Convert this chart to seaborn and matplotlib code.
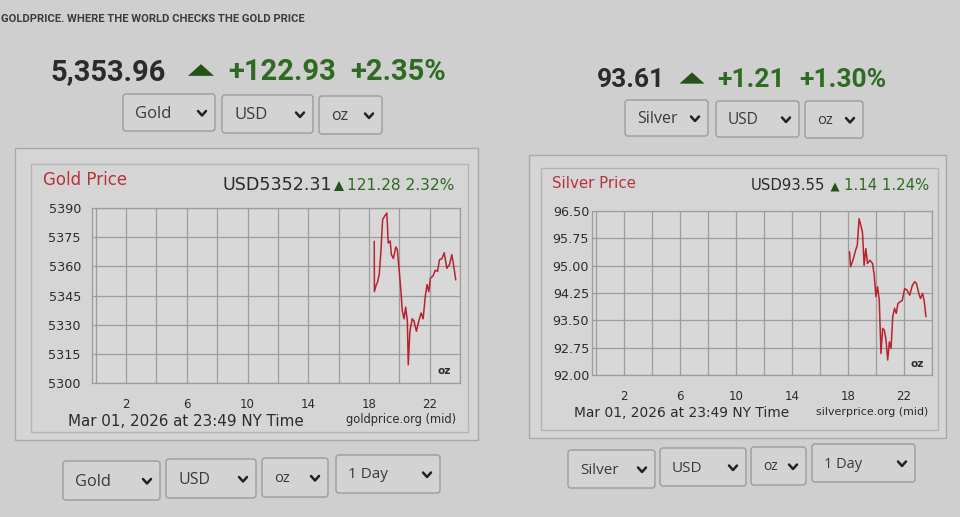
import matplotlib

matplotlib.use("Agg")
import matplotlib.pyplot as plt
import pandas as pd
import seaborn as sns
from matplotlib.lines import Line2D
from matplotlib.patches import FancyBboxPatch, Polygon, Rectangle

# ---- data -------------------------------------------------------------------
gold_hours = [18.35, 18.36, 18.46, 18.57, 18.68, 18.79, 18.90, 19.05, 19.18, 19.27, 19.40,
              19.48, 19.61, 19.77, 19.87, 19.98, 20.09, 20.20, 20.31, 20.42, 20.53, 20.59,
              20.70, 20.85, 20.96, 21.13, 21.29, 21.44, 21.57, 21.72, 21.83, 21.94, 22.05,
              22.22, 22.37, 22.52, 22.65, 22.81, 22.96, 23.13, 23.31, 23.46, 23.57, 23.72]
gold_prices = [5372.9, 5347.0, 5350.0, 5352.0, 5356.0, 5368.0, 5384.0, 5386.0, 5387.4, 5372.0,
               5373.0, 5366.0, 5364.0, 5370.0, 5368.6, 5359.0, 5349.0, 5337.0, 5333.0, 5339.0,
               5332.0, 5309.4, 5326.6, 5333.0, 5332.0, 5326.6, 5332.0, 5336.0, 5333.0, 5345.0,
               5350.6, 5347.0, 5354.0, 5355.0, 5358.0, 5357.4, 5363.4, 5364.0, 5367.0, 5359.0,
               5361.0, 5366.0, 5361.0, 5353.0]

silver_hours = [18.12, 18.19, 18.36, 18.55, 18.67, 18.80, 18.92, 19.04, 19.16, 19.28, 19.40,
                19.57, 19.76, 19.88, 20.00, 20.12, 20.24, 20.36, 20.48, 20.60, 20.72, 20.84,
                20.96, 21.08, 21.20, 21.33, 21.45, 21.57, 21.73, 21.88, 22.05, 22.22, 22.41,
                22.60, 22.77, 22.89, 23.06, 23.18, 23.33, 23.45, 23.57]
silver_prices = [95.38, 94.97, 95.15, 95.42, 95.56, 96.29, 96.11, 95.92, 95.01, 95.47, 95.06,
                 95.15, 95.06, 94.74, 94.15, 94.42, 94.05, 92.59, 93.28, 93.23, 92.96, 92.41,
                 92.91, 92.73, 93.60, 93.83, 93.69, 93.96, 94.01, 94.05, 94.37, 94.33, 94.19,
                 94.46, 94.56, 94.51, 94.24, 94.10, 94.24, 94.01, 93.60]

hour_labels = [2, 6, 10, 14, 18, 22]
gold_yticks = [5300, 5315, 5330, 5345, 5360, 5375, 5390]
silver_yticks = [92.00, 92.75, 93.50, 94.25, 95.00, 95.75, 96.50]

W, H = 960, 517
BG = "#cfcfcf"
PANEL = "#d5d5d5"
EDGE = "#a9a9a9"
DARK = "#2b2b2b"
GREEN = "#2f6a22"
TRI = "#24531a"
RED = "#b8323a"
LINE = "#b8232f"
HEAD_FONT = "Roboto"

sns.set_theme(style="whitegrid")
plt.rcParams["font.family"] = ["DejaVu Sans"]

fig = plt.figure(figsize=(W / 100, H / 100), dpi=100, facecolor=BG)
bg = fig.add_axes([0, 0, 1, 1], zorder=0)
bg.set_xlim(0, W)
bg.set_ylim(H, 0)
bg.axis("off")


def dropdown(x0, y0, x1, y1, label, size=11):
    bg.add_patch(FancyBboxPatch((x0, y0), x1 - x0, y1 - y0, boxstyle="round,pad=0,rounding_size=3",
                                facecolor="#d3d3d3", edgecolor="#9c9c9c", linewidth=1.0))
    bg.text(x0 + 12, (y0 + y1) / 2 + 1, label, fontsize=size, color="#3a3a3a",
            family="Open Sans", va="center", ha="left")
    cx, cy = x1 - 13, (y0 + y1) / 2 + 1
    bg.add_line(Line2D([cx - 4, cx, cx + 4], [cy - 2.5, cy + 2, cy - 2.5], color="#222222", linewidth=1.8))


def panel(x0, y0, x1, y1, ix0, iy0, ix1, iy1):
    bg.add_patch(Rectangle((x0, y0), x1 - x0, y1 - y0, facecolor=PANEL, edgecolor=EDGE, linewidth=1.0))
    bg.add_patch(Rectangle((ix0, iy0), ix1 - ix0, iy1 - iy0, facecolor="none", edgecolor="#b4b4b4",
                           linewidth=1.0))


def triangle(cx, cy, w, h):
    bg.add_patch(Polygon([(cx - w / 2, cy + h / 2), (cx + w / 2, cy + h / 2), (cx, cy - h / 2)],
                         closed=True, facecolor=TRI, edgecolor="none"))


# header
bg.text(1, 19, "GOLDPRICE. WHERE THE WORLD CHECKS THE GOLD PRICE", fontsize=8.1, fontweight="bold",
        family=HEAD_FONT, color="#3c3c3c", va="center", ha="left")


def headline(x, y, price, change, pct, tri_x, chg_x, pct_x, size, tri_w):
    bg.text(x, y, price, fontsize=size, fontweight="bold", family=HEAD_FONT, color=DARK, va="center")
    triangle(tri_x, y - 2, tri_w, tri_w * 0.45)
    bg.text(chg_x, y, change, fontsize=size, fontweight="bold", family=HEAD_FONT, color=GREEN, va="center")
    bg.text(pct_x, y, pct, fontsize=size, fontweight="bold", family=HEAD_FONT, color=GREEN, va="center")


headline(51, 72, "5,353.96", "+122.93", "+2.35%", 201, 228, 350, 21, 26)
headline(597, 80, "93.61", "+1.21", "+1.30%", 692, 717, 799, 19, 25)

dropdown(123, 94, 215, 131, "Gold", 12)
dropdown(222, 95, 313, 133, "USD", 12)
dropdown(319, 96, 382, 134, "oz", 11.5)
dropdown(625, 100, 708, 136, "Silver", 11.5)
dropdown(716, 101, 799, 137, "USD", 11.2)
dropdown(805, 101, 863, 138, "oz", 10.5)

panel(15, 148, 478, 440, 31, 164, 468, 432)
panel(529, 155, 946, 438, 541, 168, 938, 430)

dropdown(63, 461, 160, 500, "Gold", 11.8)
dropdown(166, 459, 256, 498, "USD", 11.5)
dropdown(262, 458, 328, 497, "oz", 10.5)
dropdown(336, 455, 440, 493, "1 Day", 11)
dropdown(568, 450, 655, 488, "Silver", 11)
dropdown(660, 448, 746, 486, "USD", 11)
dropdown(751, 447, 806, 485, "oz", 10)
dropdown(812, 444, 915, 482, "1 Day", 10.5)


def price_chart(rect_px, hours, prices, yticks, yfmt, ylabel_pad, xlabel_pad):
    left, top, right, bottom = rect_px
    ax = fig.add_axes([left / W, 1 - bottom / H, (right - left) / W, (bottom - top) / H], zorder=2)
    frame = pd.DataFrame({"hour": hours, "price": prices})
    sns.lineplot(data=frame, x="hour", y="price", ax=ax, color=LINE, linewidth=1.1)
    ax.set_facecolor("#d8d8d8")
    ax.set_xlim(-0.25, 24)
    ax.set_ylim(yticks[0], yticks[-1])
    ax.set_xticks(range(0, 25, 2))
    ax.set_xticklabels([str(h) if h in hour_labels else "" for h in range(0, 25, 2)])
    ax.set_yticks(yticks)
    ax.set_yticklabels([yfmt.format(v) for v in yticks])
    ax.grid(True, color="#9d9d9d", linewidth=0.9)
    ax.tick_params(axis="x", length=0, pad=xlabel_pad, labelsize=8.5, labelcolor=DARK)
    ax.tick_params(axis="y", length=0, pad=ylabel_pad, labelsize=9.2, labelcolor=DARK)
    ax.set_xlabel("")
    ax.set_ylabel("")
    for spine in ax.spines.values():
        spine.set_color("#9d9d9d")
        spine.set_linewidth(0.9)
    ax.text(0.975, 0.07, "oz", transform=ax.transAxes, fontsize=7.5, fontweight="bold", color=DARK,
            ha="right", va="center")
    return ax


price_chart((92, 208, 460, 383), gold_hours, gold_prices, gold_yticks, "{:.0f}", 8, 11)
price_chart((592, 211, 932, 375), silver_hours, silver_prices, silver_yticks, "{:.2f}", 2, 11)

# chart captions
bg.text(43, 180, "Gold Price", fontsize=12, color=RED, va="center")
bg.text(222, 185, "USD5352.31", fontsize=12.6, color=DARK, va="center")
triangle(339, 186, 10, 10)
bg.text(347, 185, "121.28 2.32%", fontsize=11.2, color=GREEN, va="center")
bg.text(68, 421, "Mar 01, 2026 at 23:49 NY Time", fontsize=10.9, color=DARK, va="center")
bg.text(346, 420, "goldprice.org (mid)", fontsize=8.3, color=DARK, va="center")

bg.text(552, 183, "Silver Price", fontsize=10.8, color=RED, va="center")
bg.text(751, 186, "USD93.55", fontsize=10.7, color=DARK, va="center")
triangle(835, 187, 9, 9)
bg.text(844, 186, "1.14 1.24%", fontsize=10.7, color=GREEN, va="center")
bg.text(574, 413, "Mar 01, 2026 at 23:49 NY Time", fontsize=9.9, color=DARK, va="center")
bg.text(816, 412, "silverprice.org (mid)", fontsize=7.9, color=DARK, va="center")

fig.savefig("out.png", dpi=100, facecolor=BG)
